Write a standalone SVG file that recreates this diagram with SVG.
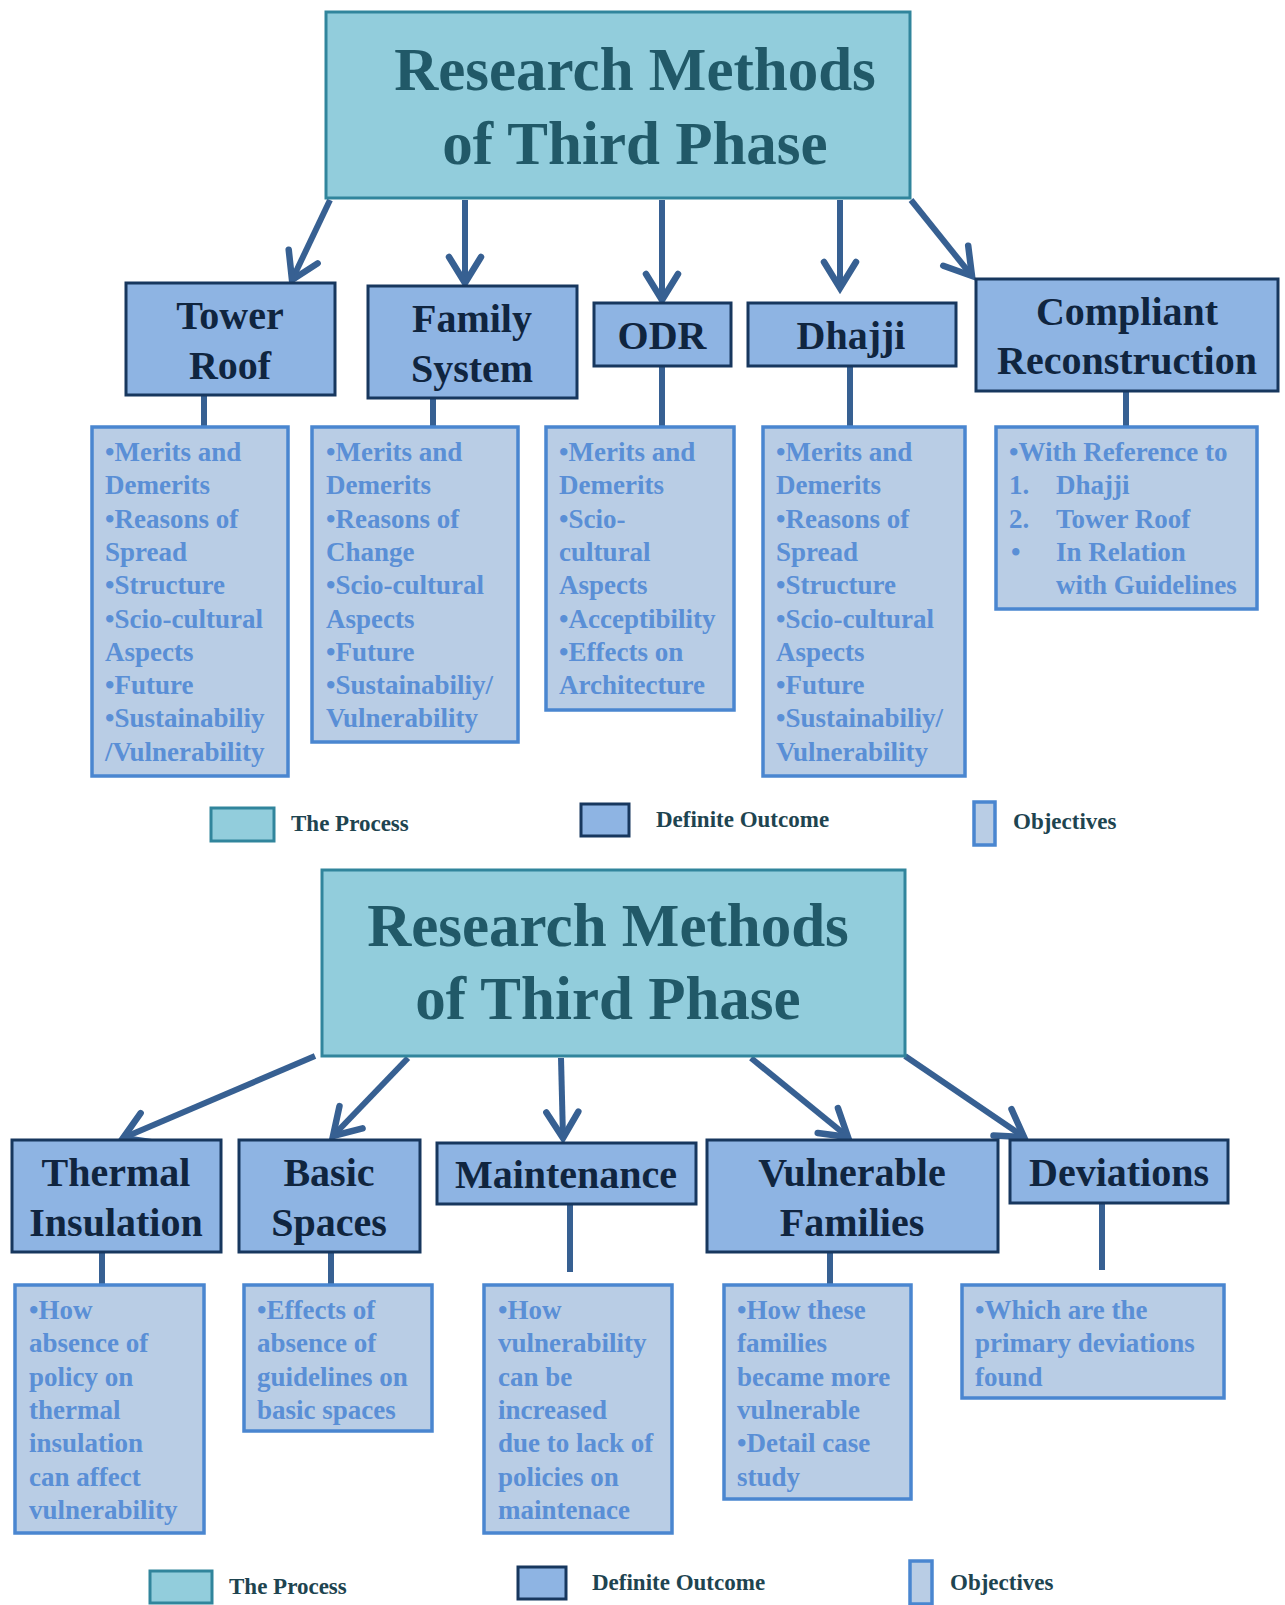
<svg xmlns="http://www.w3.org/2000/svg" width="1285" height="1605" viewBox="0 0 1285 1605">
<defs>
<style>
.proc{fill:#92cddc;stroke:#31859c;stroke-width:3}
.out{fill:#8eb4e3;stroke:#17375e;stroke-width:3}
.obj{fill:#b9cde5;stroke:#4a86d0;stroke-width:3.5}
.ttl{font-family:"Liberation Serif","Times New Roman",serif;font-weight:bold;font-size:61px;fill:#215968;text-anchor:middle}
.otx{font-family:"Liberation Serif","Times New Roman",serif;font-weight:bold;font-size:40px;fill:#10253f;text-anchor:middle}
.btx{font-family:"Liberation Serif","Times New Roman",serif;font-weight:bold;font-size:27px;fill:#5a8fd6}
.lg{font-family:"Liberation Serif","Times New Roman",serif;font-weight:bold;font-size:23px;fill:#1e4450}
.con{stroke:#376092;stroke-width:6;fill:none}
</style>
<marker id="ah" viewBox="0 0 34 34" refX="29" refY="17" markerWidth="34" markerHeight="34" markerUnits="userSpaceOnUse" orient="auto" style="overflow:visible">
<path d="M3,1 L29,17 L3,33" fill="none" stroke="#376092" stroke-width="6.5" stroke-linecap="round"/>
</marker>
</defs>
<rect width="1285" height="1605" fill="#ffffff"/>

<!-- ===== TOP DIAGRAM ===== -->
<g id="connectors-top">
<line class="con" x1="330" y1="200" x2="292" y2="280" marker-end="url(#ah)"/>
<line class="con" x1="465" y1="200" x2="465" y2="283" marker-end="url(#ah)"/>
<line class="con" x1="662" y1="200" x2="662" y2="300" marker-end="url(#ah)"/>
<line class="con" x1="840" y1="200" x2="840" y2="288" marker-end="url(#ah)"/>
<line class="con" x1="911" y1="200" x2="972" y2="276" marker-end="url(#ah)"/>
<line class="con" x1="204" y1="395" x2="204" y2="427"/>
<line class="con" x1="433" y1="398" x2="433" y2="427"/>
<line class="con" x1="662" y1="366" x2="662" y2="427"/>
<line class="con" x1="850" y1="366" x2="850" y2="427"/>
<line class="con" x1="1126" y1="391" x2="1126" y2="427"/>
</g>

<g id="title-top">
<rect class="proc" x="326" y="12" width="584" height="186"/>
<text class="ttl" x="635" y="90">Research Methods</text>
<text class="ttl" x="635" y="164">of Third Phase</text>
</g>

<g id="tower-roof">
<rect class="out" x="126" y="283" width="209" height="112"/>
<text class="otx" x="230" y="329">Tower</text>
<text class="otx" x="230" y="379">Roof</text>
</g>
<g id="family-system">
<rect class="out" x="368" y="286" width="209" height="112"/>
<text class="otx" x="472" y="332">Family</text>
<text class="otx" x="472" y="382">System</text>
</g>
<g id="odr">
<rect class="out" x="594" y="303" width="137" height="63"/>
<text class="otx" x="662" y="349">ODR</text>
</g>
<g id="dhajji">
<rect class="out" x="748" y="303" width="208" height="63"/>
<text class="otx" x="851" y="349">Dhajji</text>
</g>
<g id="compliant-reconstruction">
<rect class="out" x="976" y="279" width="302" height="112"/>
<text class="otx" x="1127" y="325">Compliant</text>
<text class="otx" x="1127" y="374">Reconstruction</text>
</g>

<g id="obj-tower-roof">
<rect class="obj" x="92" y="427" width="196" height="349"/>
<text class="btx" x="105" y="461">
<tspan x="105" dy="0">•Merits and</tspan>
<tspan x="105" dy="33.3">Demerits</tspan>
<tspan x="105" dy="33.3">•Reasons of</tspan>
<tspan x="105" dy="33.3">Spread</tspan>
<tspan x="105" dy="33.3">•Structure</tspan>
<tspan x="105" dy="33.3">•Scio-cultural</tspan>
<tspan x="105" dy="33.3">Aspects</tspan>
<tspan x="105" dy="33.3">•Future</tspan>
<tspan x="105" dy="33.3">•Sustainabiliy</tspan>
<tspan x="105" dy="33.3">/Vulnerability</tspan>
</text>
</g>
<g id="obj-family-system">
<rect class="obj" x="312" y="427" width="206" height="315"/>
<text class="btx" x="326" y="461">
<tspan x="326" dy="0">•Merits and</tspan>
<tspan x="326" dy="33.3">Demerits</tspan>
<tspan x="326" dy="33.3">•Reasons of</tspan>
<tspan x="326" dy="33.3">Change</tspan>
<tspan x="326" dy="33.3">•Scio-cultural</tspan>
<tspan x="326" dy="33.3">Aspects</tspan>
<tspan x="326" dy="33.3">•Future</tspan>
<tspan x="326" dy="33.3">•Sustainabiliy/</tspan>
<tspan x="326" dy="33.3">Vulnerability</tspan>
</text>
</g>
<g id="obj-odr">
<rect class="obj" x="546" y="427" width="188" height="283"/>
<text class="btx" x="559" y="461">
<tspan x="559" dy="0">•Merits and</tspan>
<tspan x="559" dy="33.3">Demerits</tspan>
<tspan x="559" dy="33.3">•Scio-</tspan>
<tspan x="559" dy="33.3">cultural</tspan>
<tspan x="559" dy="33.3">Aspects</tspan>
<tspan x="559" dy="33.3">•Acceptibility</tspan>
<tspan x="559" dy="33.3">•Effects on</tspan>
<tspan x="559" dy="33.3">Architecture</tspan>
</text>
</g>
<g id="obj-dhajji">
<rect class="obj" x="763" y="427" width="202" height="349"/>
<text class="btx" x="776" y="461">
<tspan x="776" dy="0">•Merits and</tspan>
<tspan x="776" dy="33.3">Demerits</tspan>
<tspan x="776" dy="33.3">•Reasons of</tspan>
<tspan x="776" dy="33.3">Spread</tspan>
<tspan x="776" dy="33.3">•Structure</tspan>
<tspan x="776" dy="33.3">•Scio-cultural</tspan>
<tspan x="776" dy="33.3">Aspects</tspan>
<tspan x="776" dy="33.3">•Future</tspan>
<tspan x="776" dy="33.3">•Sustainabiliy/</tspan>
<tspan x="776" dy="33.3">Vulnerability</tspan>
</text>
</g>
<g id="obj-compliant-reconstruction">
<rect class="obj" x="996" y="427" width="261" height="182"/>
<text class="btx" x="1009" y="461">•With Reference to</text>
<text class="btx" x="1009" y="494.3">1.</text>
<text class="btx" x="1056" y="494.3">Dhajji</text>
<text class="btx" x="1009" y="527.6">2.</text>
<text class="btx" x="1056" y="527.6">Tower Roof</text>
<text class="btx" x="1011" y="560.9">•</text>
<text class="btx" x="1056" y="560.9">In Relation</text>
<text class="btx" x="1056" y="594.2">with Guidelines</text>
</g>

<g id="legend-top">
<rect class="proc" x="211" y="808" width="63" height="33"/>
<text class="lg" x="291" y="831">The Process</text>
<rect class="out" x="581" y="804" width="48" height="32"/>
<text class="lg" x="656" y="827">Definite Outcome</text>
<rect class="obj" x="974" y="802" width="21" height="43"/>
<text class="lg" x="1013" y="829">Objectives</text>
</g>

<!-- ===== BOTTOM DIAGRAM ===== -->
<g id="connectors-bottom">
<line class="con" x1="315" y1="1056" x2="123" y2="1138" marker-end="url(#ah)"/>
<line class="con" x1="408" y1="1058" x2="333" y2="1136" marker-end="url(#ah)"/>
<line class="con" x1="561" y1="1058" x2="563" y2="1138" marker-end="url(#ah)"/>
<line class="con" x1="751" y1="1058" x2="848" y2="1137" marker-end="url(#ah)"/>
<line class="con" x1="905" y1="1056" x2="1024" y2="1137" marker-end="url(#ah)"/>
<line class="con" x1="102" y1="1252" x2="102" y2="1285"/>
<line class="con" x1="331" y1="1252" x2="331" y2="1285"/>
<line class="con" x1="570" y1="1204" x2="570" y2="1272"/>
<line class="con" x1="830" y1="1252" x2="830" y2="1285"/>
<line class="con" x1="1102" y1="1203" x2="1102" y2="1270"/>
</g>

<g id="title-bottom">
<rect class="proc" x="322" y="870" width="583" height="186"/>
<text class="ttl" x="608" y="946">Research Methods</text>
<text class="ttl" x="608" y="1019">of Third Phase</text>
</g>

<g id="thermal-insulation">
<rect class="out" x="12" y="1140" width="209" height="112"/>
<text class="otx" x="116" y="1186">Thermal</text>
<text class="otx" x="116" y="1236">Insulation</text>
</g>
<g id="basic-spaces">
<rect class="out" x="239" y="1140" width="181" height="112"/>
<text class="otx" x="329" y="1186">Basic</text>
<text class="otx" x="329" y="1236">Spaces</text>
</g>
<g id="maintenance">
<rect class="out" x="437" y="1143" width="259" height="61"/>
<text class="otx" x="566" y="1188">Maintenance</text>
</g>
<g id="vulnerable-families">
<rect class="out" x="707" y="1140" width="291" height="112"/>
<text class="otx" x="852" y="1186">Vulnerable</text>
<text class="otx" x="852" y="1236">Families</text>
</g>
<g id="deviations">
<rect class="out" x="1010" y="1140" width="218" height="63"/>
<text class="otx" x="1119" y="1186">Deviations</text>
</g>

<g id="obj-thermal-insulation">
<rect class="obj" x="15" y="1285" width="189" height="248"/>
<text class="btx" x="29" y="1319">
<tspan x="29" dy="0">•How</tspan>
<tspan x="29" dy="33.3">absence of</tspan>
<tspan x="29" dy="33.3">policy on</tspan>
<tspan x="29" dy="33.3">thermal</tspan>
<tspan x="29" dy="33.3">insulation</tspan>
<tspan x="29" dy="33.3">can affect</tspan>
<tspan x="29" dy="33.3">vulnerability</tspan>
</text>
</g>
<g id="obj-basic-spaces">
<rect class="obj" x="244" y="1285" width="188" height="146"/>
<text class="btx" x="257" y="1319">
<tspan x="257" dy="0">•Effects of</tspan>
<tspan x="257" dy="33.3">absence of</tspan>
<tspan x="257" dy="33.3">guidelines on</tspan>
<tspan x="257" dy="33.3">basic spaces</tspan>
</text>
</g>
<g id="obj-maintenance">
<rect class="obj" x="484" y="1285" width="188" height="248"/>
<text class="btx" x="498" y="1319">
<tspan x="498" dy="0">•How</tspan>
<tspan x="498" dy="33.3">vulnerability</tspan>
<tspan x="498" dy="33.3">can be</tspan>
<tspan x="498" dy="33.3">increased</tspan>
<tspan x="498" dy="33.3">due to lack of</tspan>
<tspan x="498" dy="33.3">policies on</tspan>
<tspan x="498" dy="33.3">maintenace</tspan>
</text>
</g>
<g id="obj-vulnerable-families">
<rect class="obj" x="724" y="1285" width="187" height="214"/>
<text class="btx" x="737" y="1319">
<tspan x="737" dy="0">•How these</tspan>
<tspan x="737" dy="33.3">families</tspan>
<tspan x="737" dy="33.3">became more</tspan>
<tspan x="737" dy="33.3">vulnerable</tspan>
<tspan x="737" dy="33.3">•Detail case</tspan>
<tspan x="737" dy="33.3">study</tspan>
</text>
</g>
<g id="obj-deviations">
<rect class="obj" x="962" y="1285" width="262" height="113"/>
<text class="btx" x="975" y="1319">
<tspan x="975" dy="0">•Which are the</tspan>
<tspan x="975" dy="33.3">primary deviations</tspan>
<tspan x="975" dy="33.3">found</tspan>
</text>
</g>

<g id="legend-bottom">
<rect class="proc" x="150" y="1571" width="62" height="32"/>
<text class="lg" x="229" y="1594">The Process</text>
<rect class="out" x="518" y="1567" width="48" height="32"/>
<text class="lg" x="592" y="1590">Definite Outcome</text>
<rect class="obj" x="910" y="1561" width="22" height="43"/>
<text class="lg" x="950" y="1590">Objectives</text>
</g>
</svg>
